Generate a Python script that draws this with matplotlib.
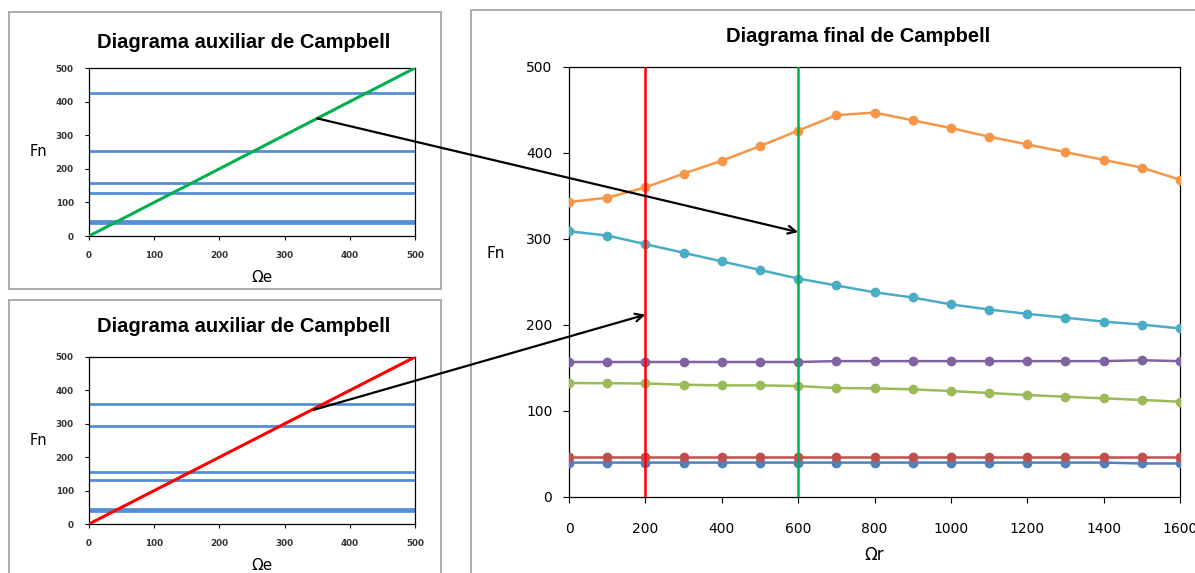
import matplotlib

matplotlib.use("Agg")
import matplotlib.pyplot as plt
from matplotlib.patches import Rectangle, ConnectionPatch

# Campbell data: natural frequencies Fn vs rotor speed Ωr
OMEGA_R = [0, 100, 200, 300, 400, 500, 600, 700, 800, 900, 1000, 1100, 1200, 1300, 1400, 1500, 1600]
MODE_1 = [40, 40, 40, 40, 40, 40, 40, 40, 40, 40, 40, 40, 40, 40, 40, 39, 39]
MODE_2 = [46, 46, 46, 46, 46, 46, 46, 46, 46, 46, 46, 46, 46, 46, 46, 46, 46]
MODE_3 = [132.5, 132.3, 132, 130.6, 129.8, 129.8, 129, 126.7, 126.3, 125.2, 123.2, 120.9, 118.6, 116.6, 114.7, 112.8, 110.8]
MODE_4 = [157, 157, 157, 157, 157, 157, 157, 158, 158, 158, 158, 158, 158, 158, 158, 159, 158]
MODE_5 = [309, 304, 294, 284, 274, 264, 254, 246, 238, 232, 224, 218, 213, 208.5, 204, 200.5, 196]
MODE_6 = [343, 348, 360, 376, 391, 408, 426, 444, 447, 438, 429, 419, 410, 401, 392, 383, 369]
MODES = [MODE_1, MODE_2, MODE_3, MODE_4, MODE_5, MODE_6]
MODE_COLORS = ["#4F81BD", "#C0504D", "#9BBB59", "#8064A2", "#4BACC6", "#F79646"]

# auxiliary diagrams: one per rotor speed, excitation line Fn = Ωe
AUX_SPEEDS = [600, 200]
AUX_COLORS = ["#00B050", "#FF0000"]
EXCITATION = [0, 500]
# arrow tails on the excitation lines and arrow heads in the final diagram
ARROW_FROM = [(350, 350), (345, 342)]
ARROW_TO = [(600, 308), (200, 212)]

W, H = 1195, 573
fig = plt.figure(figsize=(W / 100, H / 100), dpi=100, facecolor="white")


def fig_rect(x0, y0, x1, y1):
    return [x0 / W, 1 - y1 / H, (x1 - x0) / W, (y1 - y0) / H]


def frame(x0, y0, x1, y1):
    l, b, w, h = fig_rect(x0, y0, x1, y1)
    fig.patches.append(Rectangle((l, b), w, h, transform=fig.transFigure, fill=False,
                                 edgecolor="#A6A6A6", linewidth=1.3, zorder=0))


frame(9, 12, 441, 289)
frame(9, 300, 441, 600)
frame(471, 10, 1230, 600)

aux_axes = []
for (top, bottom, title_y, xlabel_y), speed, color in zip(
    [(68, 236, 42, 278), (357, 524, 326, 566)], AUX_SPEEDS, AUX_COLORS
):
    ax = fig.add_axes(fig_rect(89, top, 415, bottom))
    idx = OMEGA_R.index(speed)
    for mode in MODES:
        ax.axhline(mode[idx], color="#558ED5", linewidth=2.0, zorder=2)
    ax.plot(EXCITATION, EXCITATION, color=color, linewidth=2.2, zorder=3)
    ax.set_xlim(0, 500)
    ax.set_ylim(0, 500)
    ax.set_xticks(range(0, 501, 100))
    ax.set_yticks(range(0, 501, 100))
    ax.tick_params(labelsize=6.3, length=3, width=0.8, direction="out", pad=8, colors="black",
                   labelcolor="#333333")
    for lab in ax.get_xticklabels() + ax.get_yticklabels():
        lab.set_fontweight("bold")
    for spine in ax.spines.values():
        spine.set_linewidth(0.9)
    fig.text(244 / W, 1 - title_y / H, "Diagrama auxiliar de Campbell", ha="center", va="center",
             fontsize=14.5, fontweight="bold", family="Liberation Sans")
    fig.text(38 / W, 1 - (top + bottom) / 2 / H, "Fn", ha="center", va="center", fontsize=10.5)
    fig.text(262 / W, 1 - xlabel_y / H, "Ωe", ha="center", va="center", fontsize=11)
    aux_axes.append(ax)

ax = fig.add_axes(fig_rect(569, 67, 1180, 497))
for mode, color in zip(MODES, MODE_COLORS):
    ax.plot(OMEGA_R, mode, color=color, linewidth=1.8, marker="o", markersize=6, zorder=3)
for speed, color in zip(AUX_SPEEDS, AUX_COLORS):
    ax.axvline(speed, color=color, linewidth=1.8, zorder=4)
ax.set_xlim(0, 1600)
ax.set_ylim(0, 500)
ax.set_xticks(range(0, 1601, 200))
ax.set_yticks(range(0, 501, 100))
ax.tick_params(labelsize=10, length=4, width=0.8, direction="out", pad=14)
ax.tick_params(axis="y", pad=8)
for spine in ax.spines.values():
    spine.set_linewidth(0.9)
fig.text(858 / W, 1 - 37 / H, "Diagrama final de Campbell", ha="center", va="center",
         fontsize=14.5, fontweight="bold", family="Liberation Sans")
fig.text(496 / W, 1 - 253 / H, "Fn", ha="center", va="center", fontsize=11)
fig.text(874 / W, 1 - 555 / H, "Ωr", ha="center", va="center", fontsize=12)

for aux, start, end in zip(aux_axes, ARROW_FROM, ARROW_TO):
    con = ConnectionPatch(xyA=start, coordsA=aux.transData, xyB=end, coordsB=ax.transData,
                          arrowstyle="->", mutation_scale=14, color="black", linewidth=1.6,
                          zorder=10)
    fig.add_artist(con)

fig.savefig("out.png", dpi=100, facecolor="white")
